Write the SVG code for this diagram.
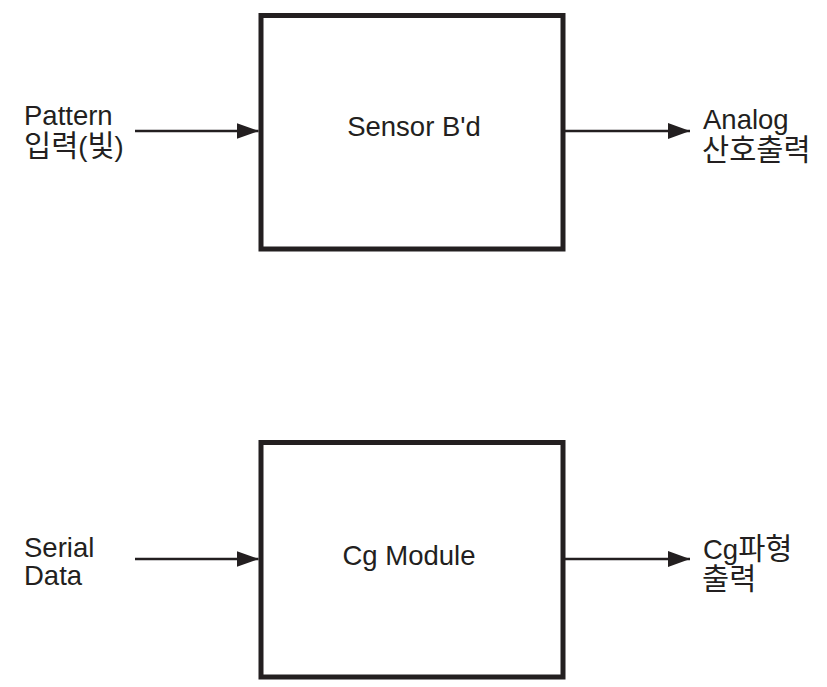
<svg xmlns="http://www.w3.org/2000/svg" width="827" height="687" viewBox="0 0 827 687">
<defs>
<style>
.box{fill:#fff;stroke:#231f20;stroke-width:5}
.ln{stroke:#231f20;stroke-width:2.5;fill:none}
.t{font-family:"Liberation Sans","Noto Sans CJK KR",sans-serif;font-size:27.5px;fill:#231f20}
.k{font-size:29.5px}
.c{text-anchor:middle}
</style>
<marker id="ah" markerUnits="userSpaceOnUse" markerWidth="22" markerHeight="18" refX="22" refY="9" orient="auto">
<path d="M0,1 L22,9 L0,17 Z" fill="#231f20"/>
</marker>
</defs>
<rect width="827" height="687" fill="#fff"/>
<g id="sensor">
<rect class="box" x="261" y="15.5" width="302" height="233.5"/>
<text class="t c" x="414" y="136">Sensor B'd</text>
</g>
<g id="cg-module">
<rect class="box" x="261" y="442.5" width="302" height="234.5"/>
<text class="t c" x="409" y="565">Cg Module</text>
</g>
<g id="labels">
<text class="t" x="24" y="125">Pattern</text>
<text class="t" x="24" y="156"><tspan class="k">입력</tspan>(<tspan class="k">빛</tspan>)</text>
<text class="t" x="703" y="129">Analog</text>
<text class="t k" x="702" y="160">산호출력</text>
<text class="t" x="24" y="557">Serial</text>
<text class="t" x="24" y="585">Data</text>
<text class="t" x="703" y="559">Cg<tspan class="k">파형</tspan></text>
<text class="t k" x="702" y="589">출력</text>
</g>
<g id="connectors">
<line class="ln" x1="135" y1="131" x2="258.5" y2="131" marker-end="url(#ah)"/>
<line class="ln" x1="563" y1="131" x2="690" y2="131" marker-end="url(#ah)"/>
<line class="ln" x1="135" y1="559" x2="258.5" y2="559" marker-end="url(#ah)"/>
<line class="ln" x1="563" y1="559" x2="690" y2="559" marker-end="url(#ah)"/>
</g>
</svg>
